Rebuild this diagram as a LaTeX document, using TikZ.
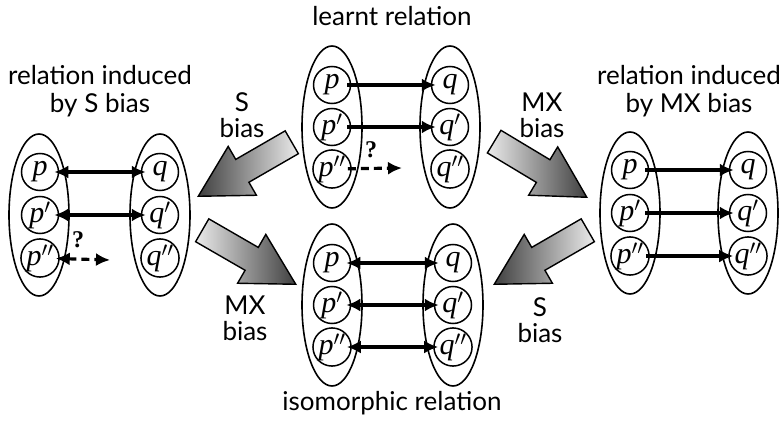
\documentclass[tikz,border=0pt]{standalone}
\usepackage{fontspec}
\setmainfont{Lato}
\newfontfamily\serifont{Liberation Serif}
\usetikzlibrary{shapes.geometric, shapes.arrows, arrows.meta}

\begin{document}
\begin{tikzpicture}[
    x=1pt, y=1pt,
    setbox/.style={ellipse, draw, line width=1.6pt, minimum width=60pt, minimum height=162pt, inner sep=0pt},
    elem/.style={circle, draw, line width=1.5pt, minimum size=37pt, inner sep=0pt, font=\serifont\itshape\fontsize{30}{30}\selectfont},
    heading/.style={align=center, font=\fontsize{26}{28}\selectfont},
    biaslabel/.style={align=center, font=\fontsize{26}{26}\selectfont},
    query/.style={font=\serifont\bfseries\fontsize{24}{24}\selectfont},
    rel/.style={line width=3.2pt, -{Latex[length=14pt,width=13pt]}, shorten >=-5pt, shorten <=-4pt},
    symrel/.style={line width=3.2pt, {Latex[length=14pt,width=13pt]}-{Latex[length=14pt,width=13pt]}, shorten >=-5pt, shorten <=-5pt},
    unknown/.style={line width=3.2pt, dash pattern=on 8pt off 5pt, shorten <=-4pt},
    bias/.style={single arrow, draw, line width=1.4pt, minimum height=108pt, inner xsep=0pt, inner ysep=12.5pt, single arrow head extend=15pt, single arrow tip angle=58, anchor=tip},
    lightdark/.style={left color=black!8, right color=black!75},
    darklight/.style={left color=black!75, right color=black!8}
]
    \useasboundingbox (0,0) rectangle (784,421);

    % Sets
    \node[setbox] (tpset) at (332,294) {};
    \node[setbox] (tqset) at (450,294) {};
    \node[setbox] (lpset) at (39,206) {};
    \node[setbox] (lqset) at (160,206) {};
    \node[setbox] (rpset) at (630,208) {};
    \node[setbox] (rqset) at (748,208) {};
    \node[setbox] (bpset) at (332,116) {};
    \node[setbox] (bqset) at (453,116) {};

    % Learnt relation
    \node[elem] (tp1) at (332,336) {p};
    \node[elem] (tp2) at (332,294) {p$'$};
    \node[elem] (tp3) at (332,252) {p$''$};
    \node[elem] (tq1) at (450,336) {q};
    \node[elem] (tq2) at (450,294) {q$'$};
    \node[elem] (tq3) at (450,252) {q$''$};
    \coordinate (tend) at (402,253);

    % Relation induced by S bias
    \node[elem] (lp1) at (40,249) {p};
    \node[elem] (lp2) at (40,206) {p$'$};
    \node[elem] (lp3) at (40,163) {p$''$};
    \node[elem] (lq1) at (160,249) {q};
    \node[elem] (lq2) at (160,206) {q$'$};
    \node[elem] (lq3) at (160,163) {q$''$};
    \coordinate (lend) at (110,161);

    % Relation induced by MX bias
    \node[elem] (rp1) at (630,251) {p};
    \node[elem] (rp2) at (630,208) {p$'$};
    \node[elem] (rp3) at (630,165) {p$''$};
    \node[elem] (rq1) at (748,251) {q};
    \node[elem] (rq2) at (748,208) {q$'$};
    \node[elem] (rq3) at (748,165) {q$''$};

    % Isomorphic relation
    \node[elem] (bp1) at (332,158) {p};
    \node[elem] (bp2) at (332,116) {p$'$};
    \node[elem] (bp3) at (332,74) {p$''$};
    \node[elem] (bq1) at (453,158) {q};
    \node[elem] (bq2) at (453,116) {q$'$};
    \node[elem] (bq3) at (453,74) {q$''$};

    % Headings
    \node[heading] (tname) at (392,405) {learnt relation};
    \node[heading] (lname) at (100,330) {relation induced\\by S bias};
    \node[heading] (rname) at (689,330) {relation induced\\by MX bias};
    \node[heading] (bname) at (392,18) {isomorphic relation};

    % Bias arrows
    \node[bias, darklight, rotate=210] (sbiasA) at (197,224) {};
    \node[bias, lightdark, rotate=-30] (mxbiasA) at (297,136) {};
    \node[bias, lightdark, rotate=-31] (mxbiasB) at (588,223) {};
    \node[bias, darklight, rotate=210] (sbiasB) at (493,136) {};
    \node[biaslabel] (sA) at (242,306) {S\\bias};
    \node[biaslabel] (mxA) at (245,103) {MX\\bias};
    \node[biaslabel] (mxB) at (542,306) {MX\\bias};
    \node[biaslabel] (sB) at (540,101) {S\\bias};

    % Edges - learnt
    \draw[rel] (tp1) -- (tq1);
    \draw[rel] (tp2) -- (tq2);
    \draw[unknown, -{Latex[length=14pt,width=13pt]}] (tp3) -- (tend);
    \node[query] (tquery) at (371,271) {?};

    % Edges - S bias
    \draw[symrel] (lp1) -- (lq1);
    \draw[symrel] (lp2) -- (lq2);
    \draw[unknown, {Latex[length=14pt,width=13pt]}-{Latex[length=14pt,width=13pt]}] (lp3) -- (lend);
    \node[query] (lquery) at (78,181) {?};

    % Edges - MX bias
    \draw[rel] (rp1) -- (rq1);
    \draw[rel] (rp2) -- (rq2);
    \draw[rel] (rp3) -- (rq3);

    % Edges - isomorphic
    \draw[symrel] (bp1) -- (bq1);
    \draw[symrel] (bp2) -- (bq2);
    \draw[symrel] (bp3) -- (bq3);

\end{tikzpicture}
\end{document}
